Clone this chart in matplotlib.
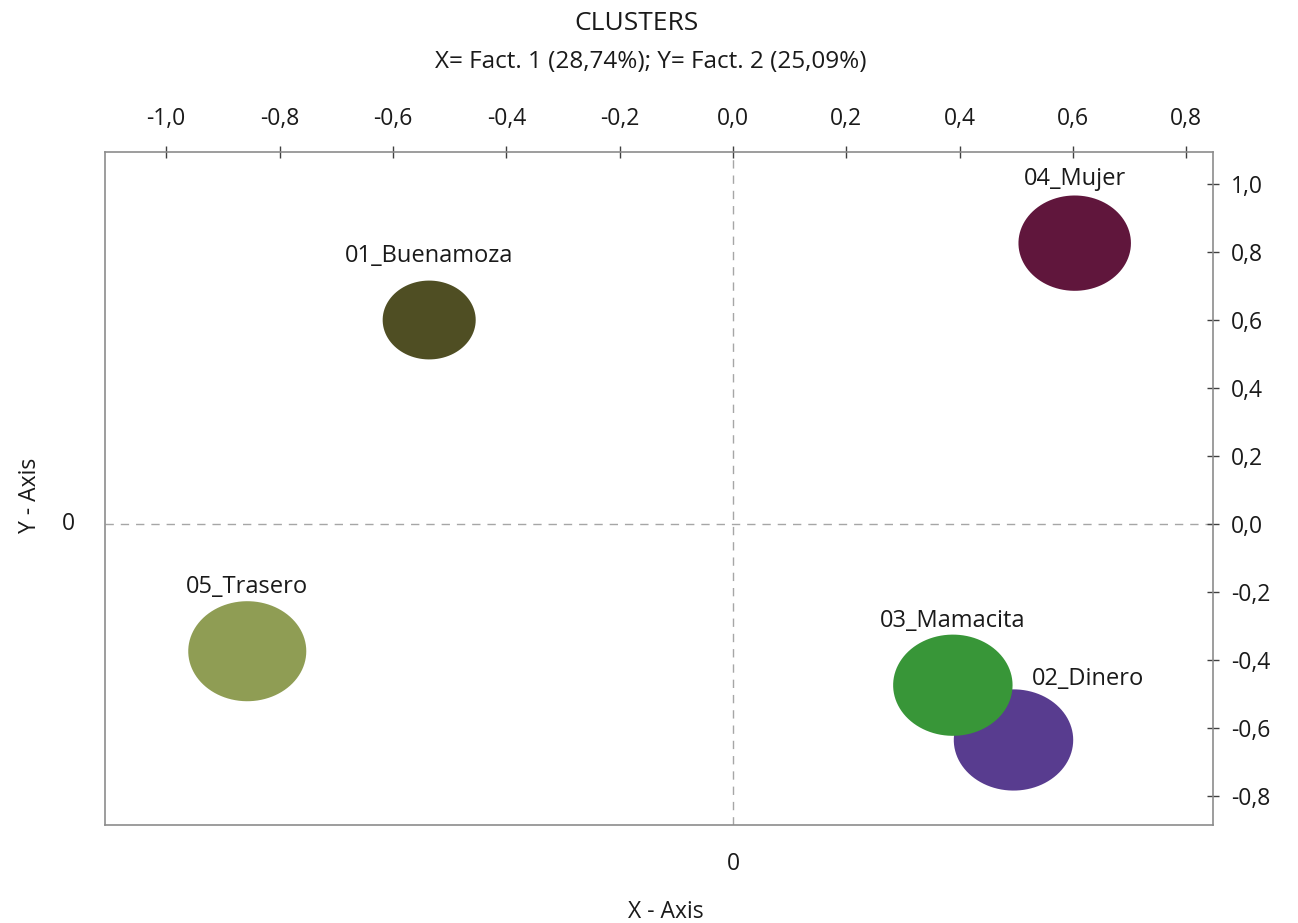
import numpy as np
import matplotlib
matplotlib.use("Agg")
import matplotlib.pyplot as plt
from matplotlib.ticker import FuncFormatter

plt.rcParams['font.family'] = ['Open Sans', 'DejaVu Sans']

etiquetas = ["01_Buenamoza", "02_Dinero", "03_Mamacita", "04_Mujer", "05_Trasero"]
fact1 = [-0.536, 0.495, 0.388, 0.603, -0.857]
fact2 = [0.600, -0.635, -0.474, 0.826, -0.374]
taille = [67, 86, 86, 81, 85]   # largeur des bulles (pt)
couleurs = ["#4F4E23", "#583C8F", "#389638", "#60163C", "#8F9D54"]

xticks = [-1.0, -0.8, -0.6, -0.4, -0.2, 0.0, 0.2, 0.4, 0.6, 0.8]
yticks = [-0.8, -0.6, -0.4, -0.2, 0.0, 0.2, 0.4, 0.6, 0.8, 1.0]

# decalage des etiquettes (pt)
decalage = {"02_Dinero": (54, 44)}

fig = plt.figure(figsize=(12.98, 9.23), dpi=100)
ax = fig.add_axes([0.0809, 0.1062, 0.8536, 0.7291])

t = np.linspace(0, 2 * np.pi, 100)
ellipse = np.column_stack([np.cos(t), np.sin(t) / 1.18])

ax.axhline(0, color="#A6A6A6", lw=1, ls=(0, (6, 5)), zorder=1)
ax.axvline(0, color="#A6A6A6", lw=1, ls=(0, (6, 5)), zorder=1)

for i in [0, 4, 3, 1, 2]:
    ax.scatter(fact1[i], fact2[i], s=taille[i] ** 2, marker=ellipse,
               color=couleurs[i], edgecolors="none", zorder=3)
    dx, dy = decalage.get(etiquetas[i], (0, 46))
    ax.annotate(etiquetas[i], (fact1[i], fact2[i]), xytext=(dx, dy),
                textcoords="offset points", ha="center", va="center",
                fontsize=17, color="#1A1A1A", zorder=4)

ax.set_xlim(-1.108, 0.847)
ax.set_ylim(-0.885, 1.094)
ax.set_xticks(xticks)
ax.set_yticks(yticks)
fmt = FuncFormatter(lambda v, p: f"{v:.1f}".replace(".", ",").replace("-0,0", "0,0"))
ax.xaxis.set_major_formatter(fmt)
ax.yaxis.set_major_formatter(fmt)
ax.xaxis.tick_top()
ax.yaxis.tick_right()
ax.tick_params(direction="inout", length=8, width=1, color="#404040",
               labelsize=16.5, labelcolor="#1A1A1A")
ax.tick_params(axis="x", pad=11)
ax.tick_params(axis="y", pad=9)
for s in ax.spines.values():
    s.set_color("#8C8C8C")
    s.set_linewidth(1.2)

fig.text(637 / 1298, 1 - 23 / 923, "CLUSTERS", ha="center", va="center", fontsize=19, color="#1A1A1A")
fig.text(651 / 1298, 1 - 62 / 923, "X= Fact. 1 (28,74%); Y= Fact. 2 (25,09%)", ha="center", va="center",
         fontsize=17.5, color="#1A1A1A")
fig.text(30 / 1298, 1 - 495 / 923, "Y - Axis", rotation=90, ha="center", va="center",
         fontsize=16.5, color="#1A1A1A")
fig.text(68 / 1298, 1 - 524 / 923, "0", ha="center", va="center", fontsize=16.5, color="#1A1A1A")
fig.text(733 / 1298, 1 - 864 / 923, "0", ha="center", va="center", fontsize=16.5, color="#1A1A1A")
fig.text(666 / 1298, 1 - 912 / 923, "X - Axis", ha="center", va="center", fontsize=16.5, color="#1A1A1A")

fig.savefig("out.png", dpi=100)
